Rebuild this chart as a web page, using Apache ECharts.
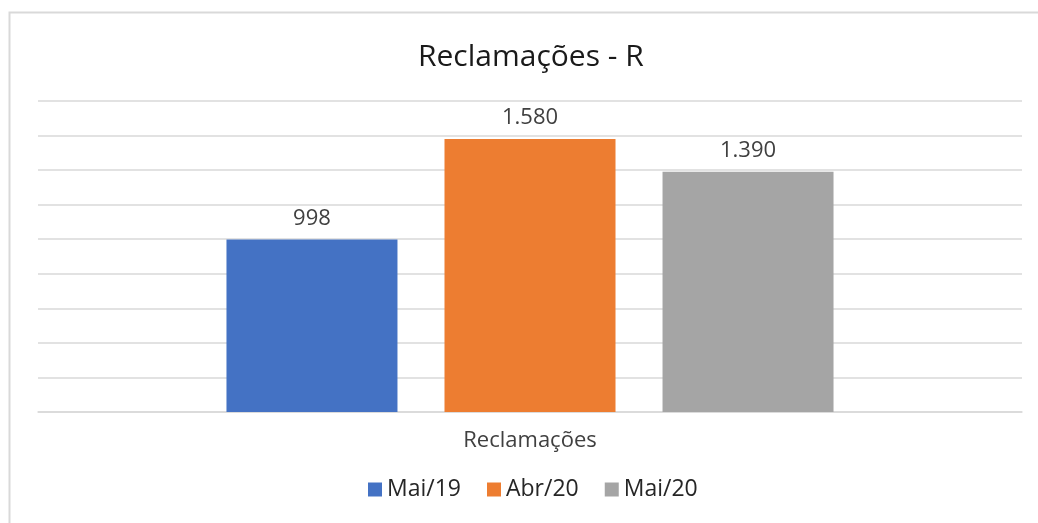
<!DOCTYPE html>
<html>
<head>
<meta charset="utf-8">
<script src="https://cdn.jsdelivr.net/npm/echarts@6/dist/echarts.min.js"></script>
<style>
  html, body { margin: 0; padding: 0; background: #fff; }
  #chart { width: 1038px; height: 523px; }
</style>
</head>
<body>
<div id="chart"></div>
<script>
const categories = ['Reclamações']
const seriesNames = ['Mai/19', 'Abr/20', 'Mai/20']
const seriesValues = [[998], [1580], [1390]]
const colors = ['#4472c4', '#ed7d31', '#a5a5a5']

const fmt = v => String(v).replace(/\B(?=(\d{3})+(?!\d))/g, '.')
const font = '"Open Sans", "Noto Sans", sans-serif'

const chart = echarts.init(document.getElementById('chart'))
chart.setOption({
  animation: false,
  textStyle: { fontFamily: font },
  title: {
    text: 'Reclamações - R',
    left: 413,
    top: 37,
    textStyle: { fontFamily: font, fontSize: 30, fontWeight: 'normal', color: '#1a1a1a' }
  },
  graphic: [{
    type: 'rect',
    shape: { x: 9.5, y: 12.5, width: 1100, height: 600 },
    style: { fill: 'none', stroke: '#d9d9d9', lineWidth: 2 },
    silent: true
  }],
  legend: {
    bottom: 17,
    left: 363,
    itemWidth: 14,
    itemHeight: 14,
    itemGap: 26,
    icon: 'rect',
    textStyle: { fontFamily: font, fontSize: 23, color: '#262626' }
  },
  grid: { left: 38, right: 16, top: 101, bottom: 111, containLabel: false },
  xAxis: {
    type: 'category',
    data: categories,
    axisLine: { lineStyle: { color: '#d9d9d9', width: 1.5 } },
    axisTick: { show: false },
    axisLabel: { fontFamily: font, fontSize: 22, color: '#404040', margin: 18 }
  },
  yAxis: {
    type: 'value',
    min: 0,
    max: 1800,
    interval: 200,
    axisLabel: { show: false },
    axisLine: { show: false },
    axisTick: { show: false },
    splitLine: { lineStyle: { color: '#d9d9d9', width: 1.5 } }
  },
  series: seriesNames.map((name, i) => ({
    name,
    type: 'bar',
    data: seriesValues[i],
    barWidth: 171,
    barGap: '27.5%',
    itemStyle: { color: colors[i] },
    label: {
      show: true,
      position: 'top',
      distance: 10,
      formatter: p => fmt(p.value),
      fontFamily: font,
      fontSize: 22,
      color: '#404040'
    }
  }))
})
</script>
</body>
</html>
